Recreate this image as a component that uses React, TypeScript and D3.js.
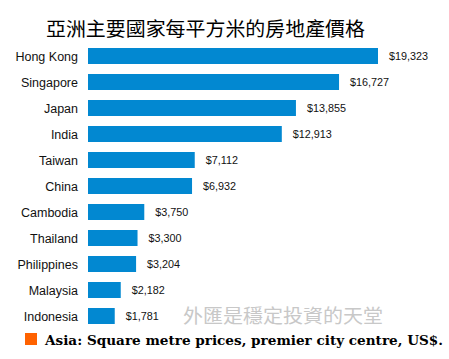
import React from "react";
import * as d3 from "d3";

const categories = ["Hong Kong", "Singapore", "Japan", "India", "Taiwan", "China", "Cambodia", "Thailand", "Philippines", "Malaysia", "Indonesia"];
const values = [19323, 16727, 13855, 12913, 7112, 6932, 3750, 3300, 3204, 2182, 1781];
const title = "亞洲主要國家每平方米的房地產價格";
const watermark = "外匯是穩定投資的天堂";
const legendLabel = "Asia: Square metre prices, premier city centre, US$.";

const W = 449;
const H = 359;

export default function App() {
  const x = d3.scaleLinear().domain([0, 19323]).range([88, 378]);
  const y = d3.scaleBand().domain(categories).range([43, 329]).paddingInner(10 / 26).paddingOuter(5 / 26);
  const fmt = d3.format("$,");
  return (
    <svg width={W} height={H} style={{ position: "absolute", left: 0, top: 0, background: "#fff" }}>
      <text x={46} y={36} fontFamily="'Noto Sans CJK TC', sans-serif" fontWeight={400} fontSize={19.5} fill="#000" textLength={319} lengthAdjust="spacingAndGlyphs">{title}</text>
      {categories.map((c, i) => {
        const yy = y(c)!;
        const bw = y.bandwidth();
        return (
          <g key={c}>
            <text x={78} y={yy + bw / 2} dy="0.36em" textAnchor="end" fontFamily="'Liberation Sans', Arial, sans-serif" fontSize={12.5} fill="#111">{c}</text>
            <rect x={x(0)} y={yy} width={x(values[i]) - x(0)} height={bw} fill="#0288d1" />
            <text x={x(values[i]) + 11} y={yy + bw / 2} dy="0.36em" fontFamily="'Liberation Sans', Arial, sans-serif" fontSize={10.8} fill="#111">{fmt(values[i])}</text>
          </g>
        );
      })}
      <text x={183} y={323} fontFamily="'Noto Sans CJK TC', sans-serif" fontSize={19} fill="#c8c8c8" textLength={200} lengthAdjust="spacingAndGlyphs">{watermark}</text>
      <rect x={25} y={333} width={12} height={12} fill="#ff6200" />
      <text x={45} y={345} fontFamily="'DejaVu Serif', 'Liberation Serif', serif" fontWeight="bold" fontSize={13} fill="#000" textLength={398} lengthAdjust="spacingAndGlyphs">{legendLabel}</text>
    </svg>
  );
}
